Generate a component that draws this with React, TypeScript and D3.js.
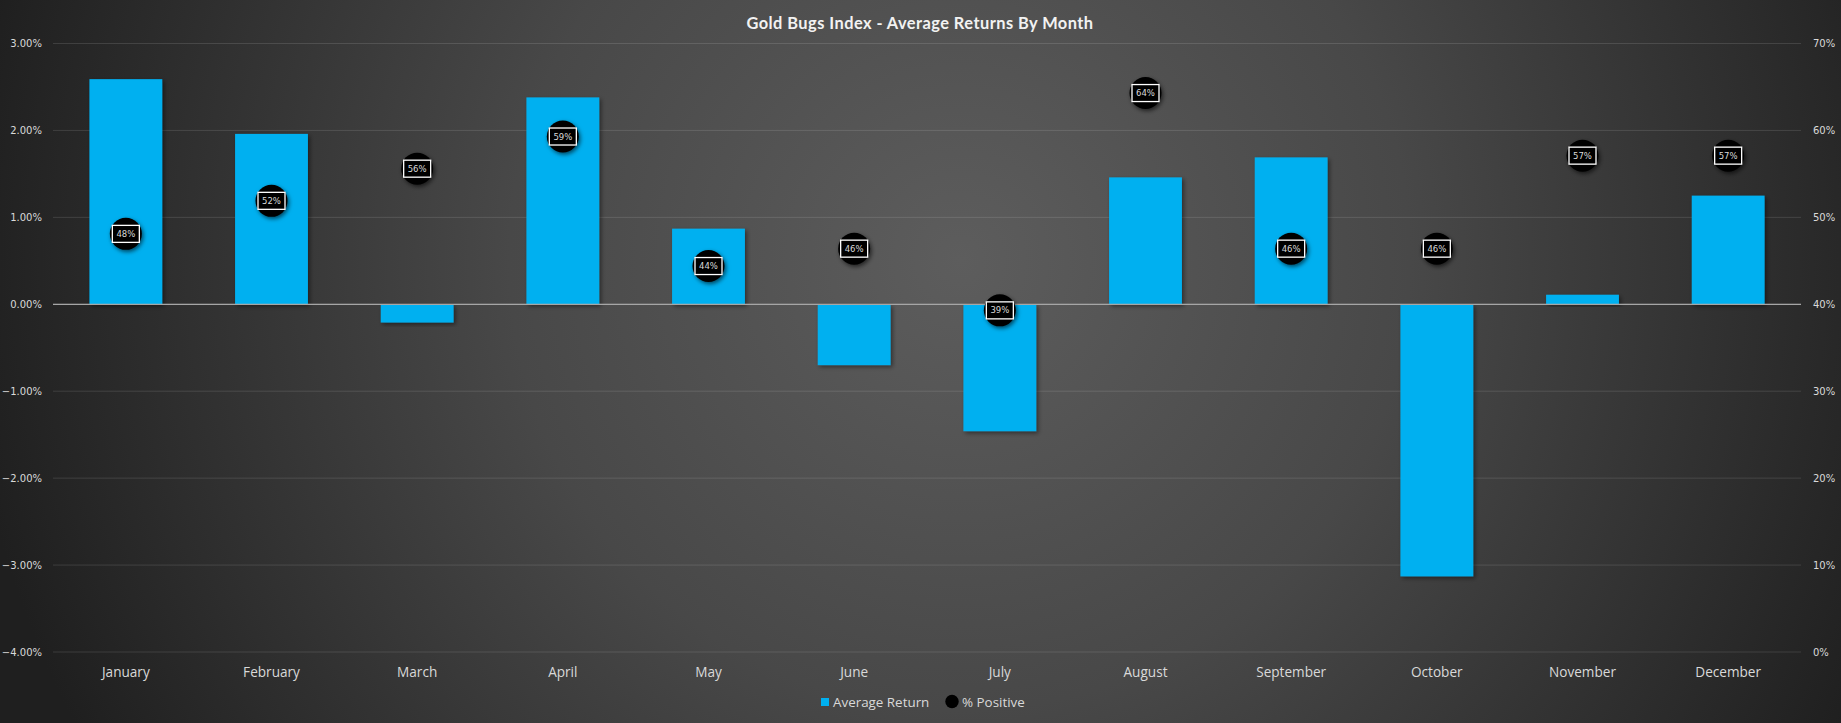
import * as d3 from "d3"

const months = ["January", "February", "March", "April", "May", "June", "July", "August", "September", "October", "November", "December"]
// average monthly return (fraction)
const avgReturn = [0.0259, 0.0196, -0.0021, 0.0238, 0.0087, -0.007, -0.0146, 0.0146, 0.0169, -0.0313, 0.0011, 0.0125]
// share of positive months (fraction)
const pctPositive = [0.481, 0.519, 0.556, 0.593, 0.444, 0.464, 0.393, 0.643, 0.464, 0.464, 0.571, 0.571]
const leftTicks = [-0.04, -0.03, -0.02, -0.01, 0, 0.01, 0.02, 0.03]
const rightTicks = [0, 0.1, 0.2, 0.3, 0.4, 0.5, 0.6, 0.7]

const W = 1841
const H = 723

export default function App() {
  const x = d3.scaleBand<string>().domain(months).range([53, 1801]).paddingInner(0.5).paddingOuter(0.25)
  const yL = d3.scaleLinear().domain([-0.04, 0.03]).range([652, 43.5])
  const yR = d3.scaleLinear().domain([0, 0.7]).range([652, 43.5])
  const fmtL = d3.format(".2%")
  const fmtR = d3.format(".0%")
  const labelColor = "#d9d9d9"

  return (
    <>
      <style>{`body{margin:0;background:#262626}`}</style>
      <svg width={W} height={H} style={{ display: "block" }}>
        <defs>
          <radialGradient id="bg" gradientUnits="userSpaceOnUse" cx={960} cy={260} r={1000}>
            <stop offset="0" stopColor="#5d5d5d" />
            <stop offset="0.45" stopColor="#484848" />
            <stop offset="1" stopColor="#1f1f1f" />
          </radialGradient>
          <filter id="barShadow" x="-20%" y="-20%" width="140%" height="140%">
            <feDropShadow dx="2" dy="2" stdDeviation="2" floodColor="#000" floodOpacity="0.45" />
          </filter>
          <filter id="dotShadow" x="-50%" y="-50%" width="200%" height="200%">
            <feDropShadow dx="1.5" dy="2" stdDeviation="2" floodColor="#000" floodOpacity="0.6" />
          </filter>
        </defs>
        <rect width={W} height={H} fill="url(#bg)" />

        {/* gridlines */}
        {leftTicks.map((t) => (
          <line key={t} x1={53} x2={1801} y1={yL(t)} y2={yL(t)} stroke="#ffffff" strokeOpacity={0.12} />
        ))}

        {/* left axis labels */}
        {leftTicks.map((t) => (
          <text key={t} x={42} y={yL(t)} dy="0.35em" textAnchor="end" fill={labelColor}
            style={{ font: "10px 'DejaVu Sans'" }}>{fmtL(t)}</text>
        ))}
        {/* right axis labels */}
        {rightTicks.map((t) => (
          <text key={t} x={1813} y={yR(t)} dy="0.35em" textAnchor="start" fill={labelColor}
            style={{ font: "10px 'DejaVu Sans'" }}>{fmtR(t)}</text>
        ))}

        {/* bars */}
        {months.map((m, i) => {
          const v = avgReturn[i]
          const y0 = yL(0)
          const y1 = yL(v)
          return (
            <rect key={m} x={x(m)} width={x.bandwidth()} y={Math.min(y0, y1)} height={Math.abs(y1 - y0)}
              fill="#00b0f0" filter="url(#barShadow)" />
          )
        })}

        {/* zero line */}
        <line x1={53} x2={1801} y1={yL(0)} y2={yL(0)} stroke="#a6a6a6" strokeWidth={1.2} />

        {/* % positive markers */}
        {months.map((m, i) => {
          const cx = (x(m) as number) + x.bandwidth() / 2
          const cy = yR(pctPositive[i])
          return (
            <g key={m}>
              <circle cx={cx} cy={cy} r={16} fill="#000" filter="url(#dotShadow)" />
              <rect x={cx - 13.5} y={cy - 8.5} width={27} height={17} fill="none" stroke="#fff" strokeWidth={1.3} />
              <text x={cx} y={cy} dy="0.36em" textAnchor="middle" fill={labelColor}
                style={{ font: "8.5px 'DejaVu Sans'" }}>{fmtR(pctPositive[i])}</text>
            </g>
          )
        })}

        {/* month labels */}
        {months.map((m) => (
          <text key={m} x={(x(m) as number) + x.bandwidth() / 2} y={672} dy="0.35em" textAnchor="middle"
            fill={labelColor} style={{ font: "13.6px 'Open Sans'" }}>{m}</text>
        ))}

        {/* title */}
        <text x={920} y={29} textAnchor="middle" fill="#f2f2f2" letterSpacing={0.45} style={{ font: "bold 16.4px Lato" }}>
          Gold Bugs Index - Average Returns By Month
        </text>

        {/* legend */}
        <rect x={821} y={698} width={8} height={8} fill="#00b0f0" />
        <text x={833} y={702} dy="0.35em" fill={labelColor} style={{ font: "13.4px 'Open Sans'" }}>Average Return</text>
        <circle cx={952} cy={701.5} r={6.7} fill="#000" />
        <text x={962} y={702} dy="0.35em" fill={labelColor} style={{ font: "13.4px 'Open Sans'" }}>% Positive</text>
      </svg>
    </>
  )
}
